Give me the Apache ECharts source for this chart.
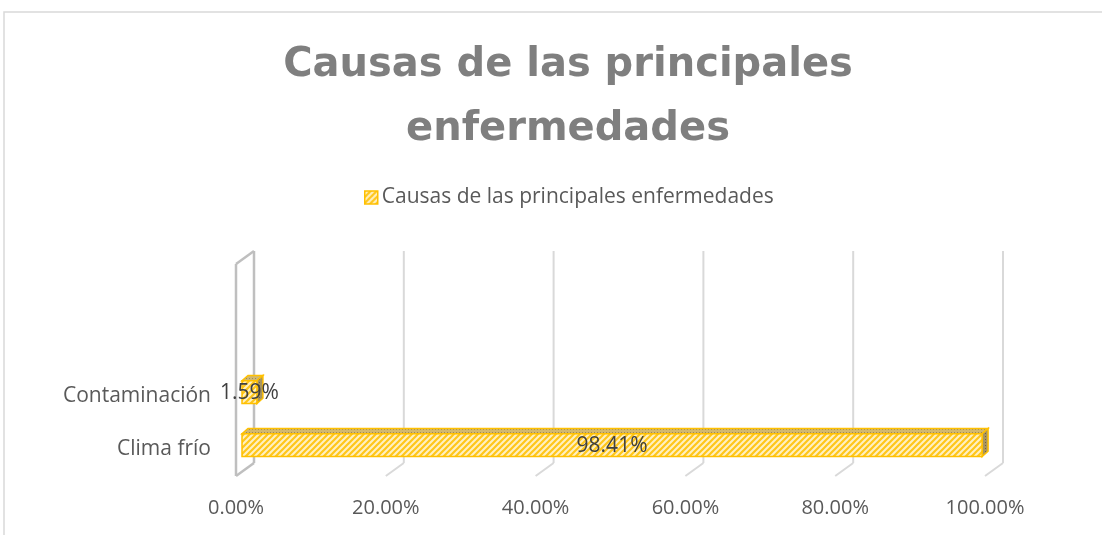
<!DOCTYPE html>
<html>
<head>
<meta charset="utf-8">
<script src="https://cdn.jsdelivr.net/npm/echarts@6/dist/echarts.min.js"></script>
<style>
  html, body { margin: 0; padding: 0; background: #fff; }
  #chart { width: 1102px; height: 535px; }
</style>
</head>
<body>
<div id="chart"></div>
<script>
// datos del gráfico
var titulo = 'Causas de las principales\nenfermedades';
var serieNombre = 'Causas de las principales enfermedades';
var categorias = ['Clima frío', 'Contaminación', '', ''];
var valores = [0.9841, 0.0159];
var ticks = [0, 0.2, 0.4, 0.6, 0.8, 1];

var FONT = '"Open Sans", sans-serif';
// vector de profundidad (frente -> fondo) del efecto 3D
var DX = 18, DY = -13;

function patron(w, h, dibujar) {
  var c = document.createElement('canvas');
  c.width = w; c.height = h;
  dibujar(c.getContext('2d'));
  return { image: c, repeat: 'repeat' };
}

// rayado diagonal de la cara frontal
var rayas = patron(6, 6, function (g) {
  g.fillStyle = '#FFF0C2';
  g.fillRect(0, 0, 6, 6);
  g.strokeStyle = '#FFC61A';
  g.lineWidth = 2.2;
  g.beginPath();
  g.moveTo(-1, 7); g.lineTo(7, -1);
  g.moveTo(-1, 1); g.lineTo(1, -1);
  g.moveTo(5, 7); g.lineTo(7, 5);
  g.stroke();
});
// punteado de la cara superior / lateral
var puntos = patron(3, 3, function (g) {
  g.fillStyle = '#D2B86E';
  g.fillRect(0, 0, 3, 3);
  g.fillStyle = '#9C8A5A';
  g.fillRect(0, 0, 1, 1);
});
var puntosOsc = patron(3, 3, function (g) {
  g.fillStyle = '#A8955F';
  g.fillRect(0, 0, 3, 3);
  g.fillStyle = '#6E6347';
  g.fillRect(1, 1, 1, 1);
});

var chart = echarts.init(document.getElementById('chart'));

var option = {
  animation: false,
  title: {
    text: titulo,
    left: 563,
    textAlign: 'center',
    top: 29,
    textStyle: {
      fontFamily: '"DejaVu Sans", sans-serif',
      fontWeight: 'bold',
      fontSize: 40,
      lineHeight: 64,
      color: '#7F7F7F'
    }
  },
  legend: {
    left: 359,
    top: 182,
    itemWidth: 13,
    itemHeight: 13,
    itemGap: 5,
    data: [{
      name: serieNombre,
      icon: 'rect',
      itemStyle: { color: rayas, borderColor: '#FFC000', borderWidth: 1.5 }
    }],
    textStyle: { fontFamily: FONT, fontSize: 21, color: '#595959', padding: [0, 0, 0, -1] }
  },
  grid: { left: 236, right: 117, top: 264, bottom: 59 },
  xAxis: {
    type: 'value',
    min: 0,
    max: 1,
    interval: 0.2,
    axisLine: { show: false },
    axisTick: { show: false },
    splitLine: { show: false },
    axisLabel: {
      margin: 22,
      fontFamily: FONT,
      fontSize: 20,
      color: '#595959',
      formatter: function (v) { return (v * 100).toFixed(2) + '%'; }
    }
  },
  yAxis: {
    type: 'category',
    data: categorias,
    axisLine: { show: false },
    axisTick: { show: false },
    splitLine: { show: false },
    axisLabel: { margin: 25, fontFamily: FONT, fontSize: 21, color: '#595959' }
  },
  graphic: [{
    type: 'rect',
    shape: { x: 4, y: 12, width: 1200, height: 600 },
    style: { fill: 'none', stroke: '#D9D9D9', lineWidth: 1.5 },
    silent: true
  }],
  series: [
    {
      // paredes y líneas de división del marco 3D
      type: 'custom',
      silent: true,
      z: 1,
      data: ticks.map(function (t) { return [t, 0]; }),
      renderItem: function (params, api) {
        var cs = params.coordSys;
        var v = api.value(0);
        var x = api.coord([v, 0])[0];
        var top = cs.y, bot = cs.y + cs.height;
        var hijos = [];
        var col = v === 0 ? '#BFBFBF' : '#D9D9D9';
        var lw = v === 0 ? 2.5 : 2;
        hijos.push({ type: 'line', shape: { x1: x + DX, y1: top + DY, x2: x + DX, y2: bot + DY }, style: { stroke: col, lineWidth: lw } });
        hijos.push({ type: 'line', shape: { x1: x + DX, y1: bot + DY, x2: x, y2: bot }, style: { stroke: col, lineWidth: lw } });
        if (v === 0) {
          hijos.push({ type: 'line', shape: { x1: x, y1: top, x2: x, y2: bot }, style: { stroke: col, lineWidth: lw } });
          hijos.push({ type: 'line', shape: { x1: x, y1: top, x2: x + DX, y2: top + DY }, style: { stroke: col, lineWidth: lw } });
        }
        return { type: 'group', children: hijos };
      }
    },
    {
      name: serieNombre,
      type: 'custom',
      z: 3,
      itemStyle: { color: '#FFC000' },
      data: valores.map(function (v, i) { return [v, i]; }),
      renderItem: function (params, api) {
        var v = api.value(0), i = api.value(1);
        var p0 = api.coord([0, i]);
        var p1 = api.coord([v, i]);
        var h = api.size([0, 1])[1] * 0.43;
        var fx = DX / 3, fy = DY / 3;
        var dx = DX / 3, dy = DY / 3 - 1;
        var x0 = p0[0] + fx, x1 = p1[0] + fx + 3;
        var yT = p0[1] + fy - h / 2, yB = yT + h;
        var borde = { stroke: '#FFC000', lineWidth: 1.5 };
        return {
          type: 'group',
          children: [
            { type: 'polygon', shape: { points: [[x0, yT], [x1, yT], [x1 + dx, yT + dy], [x0 + dx, yT + dy]] },
              style: Object.assign({ fill: puntos }, borde) },
            { type: 'polygon', shape: { points: [[x1, yT], [x1 + dx, yT + dy], [x1 + dx, yB + dy], [x1, yB]] },
              style: Object.assign({ fill: puntosOsc }, borde) },
            { type: 'rect', shape: { x: x0, y: yT, width: x1 - x0, height: h },
              style: Object.assign({ fill: rayas }, borde) },
            { type: 'text', z2: 10,
              style: { text: (v * 100).toFixed(2) + '%', x: (x0 + x1) / 2, y: yT + h / 2 + 1,
                align: 'center', verticalAlign: 'middle', fill: '#404040', fontSize: 21, fontFamily: FONT } }
          ]
        };
      }
    }
  ]
};

chart.setOption(option);
</script>
</body>
</html>
